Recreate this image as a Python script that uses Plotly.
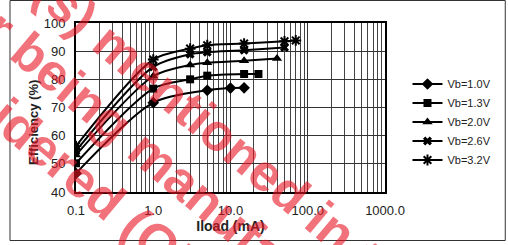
import math
import plotly.graph_objects as go

# ---------------- data ----------------
series_names = ["Vb=1.0V", "Vb=1.3V", "Vb=2.0V", "Vb=2.6V", "Vb=3.2V"]
iload_10 = [0.1, 1, 5, 10, 15]
eff_10 = [46.6, 71.7, 76.1, 76.9, 77.0]
iload_13 = [0.1, 1, 3, 5, 15, 23]
eff_13 = [50.2, 76.7, 80.0, 81.3, 81.9, 81.9]
iload_20 = [0.1, 1, 3, 5, 15, 40]
eff_20 = [53.1, 81.1, 85.1, 85.9, 86.6, 87.4]
iload_26 = [0.1, 1, 3, 5, 15, 50]
eff_26 = [54.6, 84.4, 88.9, 89.6, 90.3, 91.3]
iload_32 = [0.1, 1, 3, 5, 15, 50, 70]
eff_32 = [56.3, 87.0, 90.9, 92.1, 92.7, 93.5, 93.8]

x_tick_vals = [0.1, 1, 10, 100, 1000]
x_tick_text = ["0.1", "1.0", "10.0", "100.0", "1000.0"]
y_tick_vals = [40, 50, 60, 70, 80, 90, 100]

# ---------------- style ----------------
W, H = 508, 245
ML, MR, MT, MB = 76, 116, 23, 53
PW, PH = W - ML - MR, H - MT - MB
FONT = "Liberation Sans, Arial, sans-serif"


def px_x(p):
    return (p - ML) / PW


def px_y(p):
    return (H - MB - p) / PH


markers = [
    dict(symbol="diamond", size=9, color="black"),
    dict(symbol="square", size=8, color="black"),
    dict(symbol="triangle-up", size=9, color="black"),
    dict(symbol="x", size=8, color="black"),
    dict(symbol="asterisk-open", size=9, color="black", line=dict(color="black", width=2)),
]
xs = [iload_10, iload_13, iload_20, iload_26, iload_32]
ys = [eff_10, eff_13, eff_20, eff_26, eff_32]

fig = go.Figure()
for name, x, y, m in zip(series_names, xs, ys, markers):
    fig.add_trace(go.Scatter(
        x=x, y=y, name=name, mode="lines+markers",
        line=dict(color="black", width=2, shape="spline", smoothing=0.8),
        marker=m,
    ))

minor_vals = [k * 10 ** e for e in (-1, 0, 1, 2) for k in range(2, 10)]

fig.update_layout(
    width=W, height=H,
    margin=dict(l=ML, r=MR, t=MT, b=MB, pad=0),
    paper_bgcolor="white", plot_bgcolor="white",
    font=dict(family=FONT, size=13, color="#222"),
    showlegend=True,
    legend=dict(
        x=px_x(415), y=px_y(122), xanchor="left", yanchor="middle",
        font=dict(size=11, color="#222"), bgcolor="rgba(0,0,0,0)",
        itemwidth=30, tracegroupgap=0,
    ),
    xaxis=dict(
        type="log", range=[-1, 3],
        tickvals=x_tick_vals, ticktext=x_tick_text,
        showgrid=True, gridcolor="#333", gridwidth=1,
        minor=dict(tickvals=minor_vals, showgrid=True, gridcolor="#444", gridwidth=1, ticks=""),
        showline=True, mirror=True, linecolor="black", linewidth=2,
        ticks="", ticklabelstandoff=5, zeroline=False,
        tickfont=dict(size=13, color="#222"),
        title=dict(text="<b>Iload (mA)</b>", font=dict(size=14, color="#222"), standoff=5),
    ),
    yaxis=dict(
        range=[40, 100], tickvals=y_tick_vals,
        showgrid=True, gridcolor="#333", gridwidth=1,
        showline=True, mirror=True, linecolor="black", linewidth=2,
        ticks="", ticklabelstandoff=6, zeroline=False,
        tickfont=dict(size=13, color="#222"),
    ),
)

# y-axis title
fig.add_annotation(
    text="<b>Efficiency (%)</b>", xref="paper", yref="paper",
    x=px_x(32), y=px_y(122), xanchor="center", yanchor="middle",
    textangle=-90, showarrow=False, font=dict(size=13, color="#222"),
)

# outer frame
fig.add_shape(type="rect", xref="paper", yref="paper",
              x0=px_x(8.5), x1=px_x(515), y0=px_y(240.5), y1=px_y(0.5),
              line=dict(color="#333", width=1), fillcolor="rgba(0,0,0,0)", layer="below")

# ---------------- watermark ----------------
BOLD_W = {" ": 278, "(": 333, ")": 333, "a": 556, "b": 611, "c": 556, "d": 611, "e": 556,
          "f": 333, "g": 611, "h": 611, "i": 278, "l": 278, "m": 889, "n": 611, "o": 611,
          "p": 611, "r": 389, "s": 556, "t": 333, "u": 611, "O": 778, "T": 611, "/": 278}


def tw(s):
    return sum(BOLD_W.get(c, 556) for c in s) / 1000.0


WM_FS = 52
WM_ANG = 40
ca, sa = math.cos(math.radians(WM_ANG)), math.sin(math.radians(WM_ANG))
wm_lines = [
    ("The product(s) mentioned in this document", "mentioned", 205, 118),
    ("is/are no longer being manufactured", "being", 72, 88),
    ("considered (Obsolete)", "considered", 12, 120),
]
for line, word, rx, ry in wm_lines:
    i = line.index(word)
    d = (tw(line) / 2 - (tw(line[:i]) + tw(word) / 2)) * WM_FS
    cx, cy = rx + d * ca, ry + d * sa
    fig.add_annotation(
        text="<b>" + line + "</b>", xref="paper", yref="paper",
        x=px_x(cx), y=px_y(cy), xanchor="center", yanchor="middle",
        textangle=WM_ANG, showarrow=False,
        font=dict(size=WM_FS, color="rgba(232,20,35,0.6)", family=FONT),
    )

fig.write_html(
    "out.html",
    config={"displayModeBar": False},
    post_script="document.body.style.margin='0px';",
)
